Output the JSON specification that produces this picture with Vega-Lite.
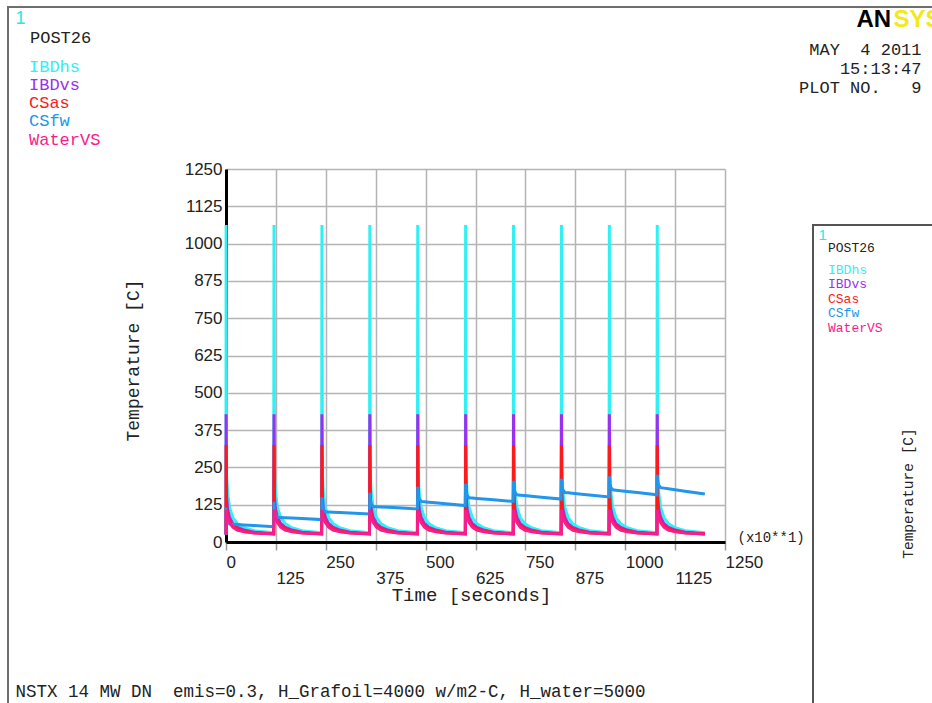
{
"$schema": "https://vega.github.io/schema/vega-lite/v6.json",
"width": 499,
"height": 373,
"autosize": {"type": "none"},
"padding": {"left": 226, "top": 169, "right": 207, "bottom": 161},
"background": "white",
"config": {"view": {"stroke": null}},
"data": {"values": [
{"s":"IBDhs","t":0,"v":25},{"s":"IBDhs","t":0.3,"v":1062},{"s":"IBDhs","t":1.5,"v":230},{"s":"IBDhs","t":4,"v":165},{"s":"IBDhs","t":9,"v":115},{"s":"IBDhs","t":17,"v":82},{"s":"IBDhs","t":28,"v":62},{"s":"IBDhs","t":45,"v":48},{"s":"IBDhs","t":70,"v":38},{"s":"IBDhs","t":119.5,"v":31},
{"s":"IBDhs","t":120.3,"v":1062},{"s":"IBDhs","t":121.5,"v":230},{"s":"IBDhs","t":124,"v":165},{"s":"IBDhs","t":129,"v":115},{"s":"IBDhs","t":137,"v":82},{"s":"IBDhs","t":148,"v":62},{"s":"IBDhs","t":165,"v":48},{"s":"IBDhs","t":190,"v":38},{"s":"IBDhs","t":239.5,"v":31},
{"s":"IBDhs","t":240.3,"v":1062},{"s":"IBDhs","t":241.5,"v":230},{"s":"IBDhs","t":244,"v":165},{"s":"IBDhs","t":249,"v":115},{"s":"IBDhs","t":257,"v":82},{"s":"IBDhs","t":268,"v":62},{"s":"IBDhs","t":285,"v":48},{"s":"IBDhs","t":310,"v":38},{"s":"IBDhs","t":359.5,"v":31},
{"s":"IBDhs","t":360.3,"v":1062},{"s":"IBDhs","t":361.5,"v":230},{"s":"IBDhs","t":364,"v":165},{"s":"IBDhs","t":369,"v":115},{"s":"IBDhs","t":377,"v":82},{"s":"IBDhs","t":388,"v":62},{"s":"IBDhs","t":405,"v":48},{"s":"IBDhs","t":430,"v":38},{"s":"IBDhs","t":479.5,"v":31},
{"s":"IBDhs","t":480.3,"v":1062},{"s":"IBDhs","t":481.5,"v":230},{"s":"IBDhs","t":484,"v":165},{"s":"IBDhs","t":489,"v":115},{"s":"IBDhs","t":497,"v":82},{"s":"IBDhs","t":508,"v":62},{"s":"IBDhs","t":525,"v":48},{"s":"IBDhs","t":550,"v":38},{"s":"IBDhs","t":599.5,"v":31},
{"s":"IBDhs","t":600.3,"v":1062},{"s":"IBDhs","t":601.5,"v":230},{"s":"IBDhs","t":604,"v":165},{"s":"IBDhs","t":609,"v":115},{"s":"IBDhs","t":617,"v":82},{"s":"IBDhs","t":628,"v":62},{"s":"IBDhs","t":645,"v":48},{"s":"IBDhs","t":670,"v":38},{"s":"IBDhs","t":719.5,"v":31},
{"s":"IBDhs","t":720.3,"v":1062},{"s":"IBDhs","t":721.5,"v":230},{"s":"IBDhs","t":724,"v":165},{"s":"IBDhs","t":729,"v":115},{"s":"IBDhs","t":737,"v":82},{"s":"IBDhs","t":748,"v":62},{"s":"IBDhs","t":765,"v":48},{"s":"IBDhs","t":790,"v":38},{"s":"IBDhs","t":839.5,"v":31},
{"s":"IBDhs","t":840.3,"v":1062},{"s":"IBDhs","t":841.5,"v":230},{"s":"IBDhs","t":844,"v":165},{"s":"IBDhs","t":849,"v":115},{"s":"IBDhs","t":857,"v":82},{"s":"IBDhs","t":868,"v":62},{"s":"IBDhs","t":885,"v":48},{"s":"IBDhs","t":910,"v":38},{"s":"IBDhs","t":959.5,"v":31},
{"s":"IBDhs","t":960.3,"v":1062},{"s":"IBDhs","t":961.5,"v":230},{"s":"IBDhs","t":964,"v":165},{"s":"IBDhs","t":969,"v":115},{"s":"IBDhs","t":977,"v":82},{"s":"IBDhs","t":988,"v":62},{"s":"IBDhs","t":1005,"v":48},{"s":"IBDhs","t":1030,"v":38},{"s":"IBDhs","t":1079.5,"v":31},
{"s":"IBDhs","t":1080.3,"v":1062},{"s":"IBDhs","t":1081.5,"v":230},{"s":"IBDhs","t":1084,"v":165},{"s":"IBDhs","t":1089,"v":115},{"s":"IBDhs","t":1097,"v":82},{"s":"IBDhs","t":1108,"v":62},{"s":"IBDhs","t":1125,"v":48},{"s":"IBDhs","t":1150,"v":38},{"s":"IBDhs","t":1199.5,"v":31},
{"s":"IBDvs","t":0,"v":25},{"s":"IBDvs","t":0.3,"v":428},{"s":"IBDvs","t":1.5,"v":150},{"s":"IBDvs","t":4,"v":110},{"s":"IBDvs","t":9,"v":82},{"s":"IBDvs","t":17,"v":62},{"s":"IBDvs","t":28,"v":50},{"s":"IBDvs","t":45,"v":40},{"s":"IBDvs","t":70,"v":33},{"s":"IBDvs","t":119.5,"v":28},
{"s":"IBDvs","t":120.3,"v":428},{"s":"IBDvs","t":121.5,"v":150},{"s":"IBDvs","t":124,"v":110},{"s":"IBDvs","t":129,"v":82},{"s":"IBDvs","t":137,"v":62},{"s":"IBDvs","t":148,"v":50},{"s":"IBDvs","t":165,"v":40},{"s":"IBDvs","t":190,"v":33},{"s":"IBDvs","t":239.5,"v":28},
{"s":"IBDvs","t":240.3,"v":428},{"s":"IBDvs","t":241.5,"v":150},{"s":"IBDvs","t":244,"v":110},{"s":"IBDvs","t":249,"v":82},{"s":"IBDvs","t":257,"v":62},{"s":"IBDvs","t":268,"v":50},{"s":"IBDvs","t":285,"v":40},{"s":"IBDvs","t":310,"v":33},{"s":"IBDvs","t":359.5,"v":28},
{"s":"IBDvs","t":360.3,"v":428},{"s":"IBDvs","t":361.5,"v":150},{"s":"IBDvs","t":364,"v":110},{"s":"IBDvs","t":369,"v":82},{"s":"IBDvs","t":377,"v":62},{"s":"IBDvs","t":388,"v":50},{"s":"IBDvs","t":405,"v":40},{"s":"IBDvs","t":430,"v":33},{"s":"IBDvs","t":479.5,"v":28},
{"s":"IBDvs","t":480.3,"v":428},{"s":"IBDvs","t":481.5,"v":150},{"s":"IBDvs","t":484,"v":110},{"s":"IBDvs","t":489,"v":82},{"s":"IBDvs","t":497,"v":62},{"s":"IBDvs","t":508,"v":50},{"s":"IBDvs","t":525,"v":40},{"s":"IBDvs","t":550,"v":33},{"s":"IBDvs","t":599.5,"v":28},
{"s":"IBDvs","t":600.3,"v":428},{"s":"IBDvs","t":601.5,"v":150},{"s":"IBDvs","t":604,"v":110},{"s":"IBDvs","t":609,"v":82},{"s":"IBDvs","t":617,"v":62},{"s":"IBDvs","t":628,"v":50},{"s":"IBDvs","t":645,"v":40},{"s":"IBDvs","t":670,"v":33},{"s":"IBDvs","t":719.5,"v":28},
{"s":"IBDvs","t":720.3,"v":428},{"s":"IBDvs","t":721.5,"v":150},{"s":"IBDvs","t":724,"v":110},{"s":"IBDvs","t":729,"v":82},{"s":"IBDvs","t":737,"v":62},{"s":"IBDvs","t":748,"v":50},{"s":"IBDvs","t":765,"v":40},{"s":"IBDvs","t":790,"v":33},{"s":"IBDvs","t":839.5,"v":28},
{"s":"IBDvs","t":840.3,"v":428},{"s":"IBDvs","t":841.5,"v":150},{"s":"IBDvs","t":844,"v":110},{"s":"IBDvs","t":849,"v":82},{"s":"IBDvs","t":857,"v":62},{"s":"IBDvs","t":868,"v":50},{"s":"IBDvs","t":885,"v":40},{"s":"IBDvs","t":910,"v":33},{"s":"IBDvs","t":959.5,"v":28},
{"s":"IBDvs","t":960.3,"v":428},{"s":"IBDvs","t":961.5,"v":150},{"s":"IBDvs","t":964,"v":110},{"s":"IBDvs","t":969,"v":82},{"s":"IBDvs","t":977,"v":62},{"s":"IBDvs","t":988,"v":50},{"s":"IBDvs","t":1005,"v":40},{"s":"IBDvs","t":1030,"v":33},{"s":"IBDvs","t":1079.5,"v":28},
{"s":"IBDvs","t":1080.3,"v":428},{"s":"IBDvs","t":1081.5,"v":150},{"s":"IBDvs","t":1084,"v":110},{"s":"IBDvs","t":1089,"v":82},{"s":"IBDvs","t":1097,"v":62},{"s":"IBDvs","t":1108,"v":50},{"s":"IBDvs","t":1125,"v":40},{"s":"IBDvs","t":1150,"v":33},{"s":"IBDvs","t":1199.5,"v":28},
{"s":"CSas","t":0,"v":25},{"s":"CSas","t":0.3,"v":325},{"s":"CSas","t":1.5,"v":120},{"s":"CSas","t":4,"v":92},{"s":"CSas","t":9,"v":70},{"s":"CSas","t":17,"v":55},{"s":"CSas","t":28,"v":45},{"s":"CSas","t":45,"v":37},{"s":"CSas","t":70,"v":31},{"s":"CSas","t":119.5,"v":27},
{"s":"CSas","t":120.3,"v":325},{"s":"CSas","t":121.5,"v":120},{"s":"CSas","t":124,"v":92},{"s":"CSas","t":129,"v":70},{"s":"CSas","t":137,"v":55},{"s":"CSas","t":148,"v":45},{"s":"CSas","t":165,"v":37},{"s":"CSas","t":190,"v":31},{"s":"CSas","t":239.5,"v":27},
{"s":"CSas","t":240.3,"v":325},{"s":"CSas","t":241.5,"v":120},{"s":"CSas","t":244,"v":92},{"s":"CSas","t":249,"v":70},{"s":"CSas","t":257,"v":55},{"s":"CSas","t":268,"v":45},{"s":"CSas","t":285,"v":37},{"s":"CSas","t":310,"v":31},{"s":"CSas","t":359.5,"v":27},
{"s":"CSas","t":360.3,"v":325},{"s":"CSas","t":361.5,"v":120},{"s":"CSas","t":364,"v":92},{"s":"CSas","t":369,"v":70},{"s":"CSas","t":377,"v":55},{"s":"CSas","t":388,"v":45},{"s":"CSas","t":405,"v":37},{"s":"CSas","t":430,"v":31},{"s":"CSas","t":479.5,"v":27},
{"s":"CSas","t":480.3,"v":325},{"s":"CSas","t":481.5,"v":120},{"s":"CSas","t":484,"v":92},{"s":"CSas","t":489,"v":70},{"s":"CSas","t":497,"v":55},{"s":"CSas","t":508,"v":45},{"s":"CSas","t":525,"v":37},{"s":"CSas","t":550,"v":31},{"s":"CSas","t":599.5,"v":27},
{"s":"CSas","t":600.3,"v":325},{"s":"CSas","t":601.5,"v":120},{"s":"CSas","t":604,"v":92},{"s":"CSas","t":609,"v":70},{"s":"CSas","t":617,"v":55},{"s":"CSas","t":628,"v":45},{"s":"CSas","t":645,"v":37},{"s":"CSas","t":670,"v":31},{"s":"CSas","t":719.5,"v":27},
{"s":"CSas","t":720.3,"v":325},{"s":"CSas","t":721.5,"v":120},{"s":"CSas","t":724,"v":92},{"s":"CSas","t":729,"v":70},{"s":"CSas","t":737,"v":55},{"s":"CSas","t":748,"v":45},{"s":"CSas","t":765,"v":37},{"s":"CSas","t":790,"v":31},{"s":"CSas","t":839.5,"v":27},
{"s":"CSas","t":840.3,"v":325},{"s":"CSas","t":841.5,"v":120},{"s":"CSas","t":844,"v":92},{"s":"CSas","t":849,"v":70},{"s":"CSas","t":857,"v":55},{"s":"CSas","t":868,"v":45},{"s":"CSas","t":885,"v":37},{"s":"CSas","t":910,"v":31},{"s":"CSas","t":959.5,"v":27},
{"s":"CSas","t":960.3,"v":325},{"s":"CSas","t":961.5,"v":120},{"s":"CSas","t":964,"v":92},{"s":"CSas","t":969,"v":70},{"s":"CSas","t":977,"v":55},{"s":"CSas","t":988,"v":45},{"s":"CSas","t":1005,"v":37},{"s":"CSas","t":1030,"v":31},{"s":"CSas","t":1079.5,"v":27},
{"s":"CSas","t":1080.3,"v":325},{"s":"CSas","t":1081.5,"v":120},{"s":"CSas","t":1084,"v":92},{"s":"CSas","t":1089,"v":70},{"s":"CSas","t":1097,"v":55},{"s":"CSas","t":1108,"v":45},{"s":"CSas","t":1125,"v":37},{"s":"CSas","t":1150,"v":31},{"s":"CSas","t":1199.5,"v":27},
{"s":"CSfw","t":0,"v":25},{"s":"CSfw","t":0.3,"v":115},{"s":"CSfw","t":1.5,"v":80},{"s":"CSfw","t":4,"v":68},{"s":"CSfw","t":9,"v":60},{"s":"CSfw","t":17,"v":59.3},{"s":"CSfw","t":28,"v":58.5},{"s":"CSfw","t":45,"v":57.1},{"s":"CSfw","t":70,"v":55},{"s":"CSfw","t":119.5,"v":51},
{"s":"CSfw","t":120.3,"v":135},{"s":"CSfw","t":121.5,"v":103},{"s":"CSfw","t":124,"v":91},{"s":"CSfw","t":129,"v":83},{"s":"CSfw","t":137,"v":82.4},{"s":"CSfw","t":148,"v":81.6},{"s":"CSfw","t":165,"v":80.4},{"s":"CSfw","t":190,"v":78.6},{"s":"CSfw","t":239.5,"v":75},
{"s":"CSfw","t":240.3,"v":150},{"s":"CSfw","t":241.5,"v":121},{"s":"CSfw","t":244,"v":109},{"s":"CSfw","t":249,"v":101},{"s":"CSfw","t":257,"v":100.5},{"s":"CSfw","t":268,"v":99.8},{"s":"CSfw","t":285,"v":98.7},{"s":"CSfw","t":310,"v":97.1},{"s":"CSfw","t":359.5,"v":94},
{"s":"CSfw","t":360.3,"v":165},{"s":"CSfw","t":361.5,"v":139},{"s":"CSfw","t":364,"v":127},{"s":"CSfw","t":369,"v":119},{"s":"CSfw","t":377,"v":118.4},{"s":"CSfw","t":388,"v":117.6},{"s":"CSfw","t":405,"v":116.4},{"s":"CSfw","t":430,"v":114.6},{"s":"CSfw","t":479.5,"v":111},
{"s":"CSfw","t":480.3,"v":185},{"s":"CSfw","t":481.5,"v":156},{"s":"CSfw","t":484,"v":144},{"s":"CSfw","t":489,"v":136},{"s":"CSfw","t":497,"v":135},{"s":"CSfw","t":508,"v":133.6},{"s":"CSfw","t":525,"v":131.4},{"s":"CSfw","t":550,"v":128.3},{"s":"CSfw","t":599.5,"v":122},
{"s":"CSfw","t":600.3,"v":195},{"s":"CSfw","t":601.5,"v":168},{"s":"CSfw","t":604,"v":156},{"s":"CSfw","t":609,"v":148},{"s":"CSfw","t":617,"v":147.1},{"s":"CSfw","t":628,"v":145.9},{"s":"CSfw","t":645,"v":144.1},{"s":"CSfw","t":670,"v":141.4},{"s":"CSfw","t":719.5,"v":136},
{"s":"CSfw","t":720.3,"v":205},{"s":"CSfw","t":721.5,"v":178},{"s":"CSfw","t":724,"v":166},{"s":"CSfw","t":729,"v":158},{"s":"CSfw","t":737,"v":157},{"s":"CSfw","t":748,"v":155.6},{"s":"CSfw","t":765,"v":153.4},{"s":"CSfw","t":790,"v":150.3},{"s":"CSfw","t":839.5,"v":144},
{"s":"CSfw","t":840.3,"v":212},{"s":"CSfw","t":841.5,"v":186},{"s":"CSfw","t":844,"v":174},{"s":"CSfw","t":849,"v":166},{"s":"CSfw","t":857,"v":164.9},{"s":"CSfw","t":868,"v":163.4},{"s":"CSfw","t":885,"v":161.1},{"s":"CSfw","t":910,"v":157.7},{"s":"CSfw","t":959.5,"v":151},
{"s":"CSfw","t":960.3,"v":220},{"s":"CSfw","t":961.5,"v":195},{"s":"CSfw","t":964,"v":183},{"s":"CSfw","t":969,"v":175},{"s":"CSfw","t":977,"v":173.8},{"s":"CSfw","t":988,"v":172.1},{"s":"CSfw","t":1005,"v":169.5},{"s":"CSfw","t":1030,"v":165.6},{"s":"CSfw","t":1079.5,"v":158},
{"s":"CSfw","t":1080.3,"v":225},{"s":"CSfw","t":1081.5,"v":202},{"s":"CSfw","t":1084,"v":190},{"s":"CSfw","t":1089,"v":182},{"s":"CSfw","t":1097,"v":180.5},{"s":"CSfw","t":1108,"v":178.4},{"s":"CSfw","t":1125,"v":175.2},{"s":"CSfw","t":1150,"v":170.4},{"s":"CSfw","t":1199.5,"v":161},
{"s":"WaterVS","t":0,"v":25},{"s":"WaterVS","t":0.3,"v":108},{"s":"WaterVS","t":1.5,"v":100},{"s":"WaterVS","t":4,"v":85},{"s":"WaterVS","t":9,"v":65},{"s":"WaterVS","t":17,"v":50},{"s":"WaterVS","t":28,"v":40},{"s":"WaterVS","t":45,"v":34},{"s":"WaterVS","t":70,"v":30},{"s":"WaterVS","t":119.5,"v":27},
{"s":"WaterVS","t":120.3,"v":108},{"s":"WaterVS","t":121.5,"v":100},{"s":"WaterVS","t":124,"v":85},{"s":"WaterVS","t":129,"v":65},{"s":"WaterVS","t":137,"v":50},{"s":"WaterVS","t":148,"v":40},{"s":"WaterVS","t":165,"v":34},{"s":"WaterVS","t":190,"v":30},{"s":"WaterVS","t":239.5,"v":27},
{"s":"WaterVS","t":240.3,"v":108},{"s":"WaterVS","t":241.5,"v":100},{"s":"WaterVS","t":244,"v":85},{"s":"WaterVS","t":249,"v":65},{"s":"WaterVS","t":257,"v":50},{"s":"WaterVS","t":268,"v":40},{"s":"WaterVS","t":285,"v":34},{"s":"WaterVS","t":310,"v":30},{"s":"WaterVS","t":359.5,"v":27},
{"s":"WaterVS","t":360.3,"v":108},{"s":"WaterVS","t":361.5,"v":100},{"s":"WaterVS","t":364,"v":85},{"s":"WaterVS","t":369,"v":65},{"s":"WaterVS","t":377,"v":50},{"s":"WaterVS","t":388,"v":40},{"s":"WaterVS","t":405,"v":34},{"s":"WaterVS","t":430,"v":30},{"s":"WaterVS","t":479.5,"v":27},
{"s":"WaterVS","t":480.3,"v":108},{"s":"WaterVS","t":481.5,"v":100},{"s":"WaterVS","t":484,"v":85},{"s":"WaterVS","t":489,"v":65},{"s":"WaterVS","t":497,"v":50},{"s":"WaterVS","t":508,"v":40},{"s":"WaterVS","t":525,"v":34},{"s":"WaterVS","t":550,"v":30},{"s":"WaterVS","t":599.5,"v":27},
{"s":"WaterVS","t":600.3,"v":108},{"s":"WaterVS","t":601.5,"v":100},{"s":"WaterVS","t":604,"v":85},{"s":"WaterVS","t":609,"v":65},{"s":"WaterVS","t":617,"v":50},{"s":"WaterVS","t":628,"v":40},{"s":"WaterVS","t":645,"v":34},{"s":"WaterVS","t":670,"v":30},{"s":"WaterVS","t":719.5,"v":27},
{"s":"WaterVS","t":720.3,"v":108},{"s":"WaterVS","t":721.5,"v":100},{"s":"WaterVS","t":724,"v":85},{"s":"WaterVS","t":729,"v":65},{"s":"WaterVS","t":737,"v":50},{"s":"WaterVS","t":748,"v":40},{"s":"WaterVS","t":765,"v":34},{"s":"WaterVS","t":790,"v":30},{"s":"WaterVS","t":839.5,"v":27},
{"s":"WaterVS","t":840.3,"v":108},{"s":"WaterVS","t":841.5,"v":100},{"s":"WaterVS","t":844,"v":85},{"s":"WaterVS","t":849,"v":65},{"s":"WaterVS","t":857,"v":50},{"s":"WaterVS","t":868,"v":40},{"s":"WaterVS","t":885,"v":34},{"s":"WaterVS","t":910,"v":30},{"s":"WaterVS","t":959.5,"v":27},
{"s":"WaterVS","t":960.3,"v":108},{"s":"WaterVS","t":961.5,"v":100},{"s":"WaterVS","t":964,"v":85},{"s":"WaterVS","t":969,"v":65},{"s":"WaterVS","t":977,"v":50},{"s":"WaterVS","t":988,"v":40},{"s":"WaterVS","t":1005,"v":34},{"s":"WaterVS","t":1030,"v":30},{"s":"WaterVS","t":1079.5,"v":27},
{"s":"WaterVS","t":1080.3,"v":108},{"s":"WaterVS","t":1081.5,"v":100},{"s":"WaterVS","t":1084,"v":85},{"s":"WaterVS","t":1089,"v":65},{"s":"WaterVS","t":1097,"v":50},{"s":"WaterVS","t":1108,"v":40},{"s":"WaterVS","t":1125,"v":34},{"s":"WaterVS","t":1150,"v":30},{"s":"WaterVS","t":1199.5,"v":27}
]},
"resolve": {"axis": {"x": "independent", "y": "independent"}},
"layer": [
{
"mark": {"type": "line", "strokeWidth": 3},
"encoding": {
"x": {"field": "t", "type": "quantitative", "scale": {"domain": [0, 1250], "nice": false, "zero": false},
 "axis": {"values": [0,125,250,375,500,625,750,875,1000,1125,1250], "format": "d", "zindex": 0,
  "grid": true, "gridColor": "#b4b4b4", "gridWidth": 1.5,
  "domainColor": "#000000", "domainWidth": 3,
  "ticks": true, "tickColor": "#9a9a9a", "tickSize": 8, "tickWidth": 1.5,
  "labelFont": "Liberation Sans", "labelFontSize": 17, "labelColor": "#222222",
  "labelAlign": "left", "labelBaseline": "top", "labelPadding": 4, "labelLineHeight": 16,
  "labelFlush": false, "labelOverlap": false, "labelBound": false,
  "labelExpr": "datum.value % 250 == 0 ? datum.label : ['', datum.label]",
  "title": "Time [seconds]", "titleFont": "Liberation Mono", "titleFontSize": 19, "titleFontWeight": "normal", "titleColor": "#222222",
  "titleX": 245, "titleY": 52, "titleAlign": "center", "titleBaseline": "middle", "titleAngle": 0}},
"y": {"field": "v", "type": "quantitative", "scale": {"domain": [0, 1250], "nice": false, "zero": false},
 "axis": {"values": [0,125,250,375,500,625,750,875,1000,1125,1250], "format": "d", "zindex": 0,
  "grid": true, "gridColor": "#b4b4b4", "gridWidth": 1.5,
  "domainColor": "#000000", "domainWidth": 3, "ticks": false,
  "labelFont": "Liberation Sans", "labelFontSize": 17, "labelColor": "#222222", "labelPadding": 4, "labelOverlap": false,
  "title": "Temperature [C]", "titleFont": "Liberation Mono", "titleFontSize": 18, "titleFontWeight": "normal", "titleColor": "#222222",
  "titleX": -93, "titleY": 191, "titleAngle": 270, "titleAlign": "center", "titleBaseline": "middle"}},
"color": {"field": "s", "type": "nominal",
 "scale": {"domain": ["IBDhs","IBDvs","CSas","CSfw","WaterVS"], "range": ["#2ff0f2","#9b30f0","#ff1a1a","#2196ea","#f81c8c"]},
 "legend": {"orient": "none", "legendX": -196, "legendY": -139, "padding": 0,
  "title": "POST26", "titleFont": "Liberation Mono", "titleFontSize": 17, "titleFontWeight": "normal", "titleColor": "#222222", "titlePadding": 11,
  "labelFont": "Liberation Mono", "labelFontSize": 17, "labelColor": {"expr": "scale('color', datum.value)"}, "labelOffset": -18, "labelLimit": 500,
  "symbolOpacity": 0, "symbolSize": 0, "symbolStrokeWidth": 0, "rowPadding": 0.3}}
}
},
{
"transform": [{"filter": "datum.t < 1"}],
"mark": {"type": "point", "opacity": 0},
"encoding": {
"x": {"field": "t", "type": "quantitative", "scale": {"domain": [0, 1250], "nice": false, "zero": false},
 "axis": {"orient": "bottom", "domain": false, "ticks": false, "labels": false, "grid": false,
  "title": "NSTX 14 MW DN\u00a0\u00a0emis=0.3, H_Grafoil=4000 w/m2-C, H_water=5000", "titleX": -211, "titleY": 149, "titleAngle": 0,
  "titleAlign": "left", "titleBaseline": "middle", "titleFont": "Liberation Mono", "titleFontSize": 17.5, "titleFontWeight": "normal", "titleColor": "#222222", "titleLimit": 2000}},
"y": {"field": "v", "type": "quantitative", "scale": {"domain": [0, 1250], "nice": false, "zero": false},
 "axis": {"orient": "left", "domain": false, "ticks": false, "labels": false, "grid": false,
  "title": "1", "titleX": -211, "titleY": -151, "titleAngle": 0,
  "titleAlign": "left", "titleBaseline": "middle", "titleFont": "Liberation Sans", "titleFontSize": 18, "titleFontWeight": "normal", "titleColor": "#2ae6ea", "titleLimit": 2000}},
"shape": {"field": "s", "type": "nominal", "sort": null,
 "legend": {"orient": "none", "legendX": 602, "legendY": 73, "padding": 0,
  "title": "POST26", "titleFont": "Liberation Mono", "titleFontSize": 13, "titleFontWeight": "normal", "titleColor": "#222222", "titlePadding": 8,
  "labelFont": "Liberation Mono", "labelFontSize": 13, "labelColor": {"expr": "scale('color', datum.value)"}, "labelOffset": -13, "labelLimit": 500,
  "symbolOpacity": 0, "symbolSize": 0, "symbolStrokeWidth": 0, "rowPadding": 0.5}},
"fill": {"field": "v", "type": "quantitative",
 "scale": {"domain": [0, 1000], "range": ["rgba(255,255,255,0)", "rgba(255,255,255,0)"]},
 "legend": {"orient": "none", "legendX": -218, "legendY": -162, "padding": 0, "direction": "horizontal",
  "gradientLength": 1100, "gradientThickness": 900, "gradientStrokeColor": "#6e6e6e", "gradientStrokeWidth": 2,
  "labels": false, "title": null}},
"stroke": {"field": "v", "type": "quantitative",
 "scale": {"domain": [0, 2000], "range": ["rgba(255,255,255,0)", "rgba(255,255,255,0)"]},
 "legend": {"orient": "none", "legendX": 587, "legendY": 56, "padding": 0, "direction": "horizontal",
  "gradientLength": 300, "gradientThickness": 600, "gradientStrokeColor": "#555555", "gradientStrokeWidth": 2,
  "labels": false, "title": null}}
}
},
{
"transform": [{"filter": "datum.t < 1"}],
"mark": {"type": "point", "opacity": 0},
"encoding": {
"x": {"field": "t", "type": "quantitative", "scale": {"domain": [0, 1250], "nice": false, "zero": false},
 "axis": {"orient": "bottom", "domain": false, "ticks": false, "labels": false, "grid": false,
  "title": "(x10**1)", "titleX": 511, "titleY": -5, "titleAngle": 0,
  "titleAlign": "left", "titleBaseline": "middle", "titleFont": "Liberation Mono", "titleFontSize": 14, "titleFontWeight": "normal", "titleColor": "#222222", "titleLimit": 2000}},
"y": {"field": "v", "type": "quantitative", "scale": {"domain": [0, 1250], "nice": false, "zero": false},
 "axis": {"orient": "left", "domain": false, "ticks": false, "labels": false, "grid": false,
  "title": "AN", "titleX": 630, "titleY": -150, "titleAngle": 0,
  "titleAlign": "left", "titleBaseline": "middle", "titleFont": "Liberation Sans", "titleFontSize": 24, "titleFontWeight": "bold", "titleColor": "#000000", "titleLimit": 2000}}
}
},
{
"transform": [{"filter": "datum.t < 1"}],
"mark": {"type": "point", "opacity": 0},
"encoding": {
"x": {"field": "t", "type": "quantitative", "scale": {"domain": [0, 1250], "nice": false, "zero": false},
 "axis": {"orient": "top", "domain": false, "ticks": false, "labels": false, "grid": false,
  "title": ["MAY\u00a0\u00a04 2011", "15:13:47", "PLOT NO.\u00a0\u00a0\u00a09"], "titleX": 695, "titleY": -120, "titleAngle": 0, "titleLineHeight": 19,
  "titleAlign": "right", "titleBaseline": "middle", "titleFont": "Liberation Mono", "titleFontSize": 17, "titleFontWeight": "normal", "titleColor": "#222222", "titleLimit": 2000}},
"y": {"field": "v", "type": "quantitative", "scale": {"domain": [0, 1250], "nice": false, "zero": false},
 "axis": {"orient": "left", "domain": false, "ticks": false, "labels": false, "grid": false,
  "title": "SYS", "titleX": 667, "titleY": -150, "titleAngle": 0,
  "titleAlign": "left", "titleBaseline": "middle", "titleFont": "Liberation Sans", "titleFontSize": 24, "titleFontWeight": "bold", "titleColor": "#f2e81a", "titleLimit": 2000}}
}
},
{
"transform": [{"filter": "datum.t < 1"}],
"mark": {"type": "point", "opacity": 0},
"encoding": {
"x": {"field": "t", "type": "quantitative", "scale": {"domain": [0, 1250], "nice": false, "zero": false},
 "axis": {"orient": "top", "domain": false, "ticks": false, "labels": false, "grid": false,
  "title": "1", "titleX": 592, "titleY": 65, "titleAngle": 0,
  "titleAlign": "left", "titleBaseline": "middle", "titleFont": "Liberation Sans", "titleFontSize": 15, "titleFontWeight": "normal", "titleColor": "#2ae6ea", "titleLimit": 2000}},
"y": {"field": "v", "type": "quantitative", "scale": {"domain": [0, 1250], "nice": false, "zero": false},
 "axis": {"orient": "left", "domain": false, "ticks": false, "labels": false, "grid": false,
  "title": "Temperature [C]", "titleX": 682, "titleY": 324, "titleAngle": 270,
  "titleAlign": "center", "titleBaseline": "middle", "titleFont": "Liberation Mono", "titleFontSize": 14.5, "titleFontWeight": "normal", "titleColor": "#222222", "titleLimit": 2000}}
}
}
]
}
